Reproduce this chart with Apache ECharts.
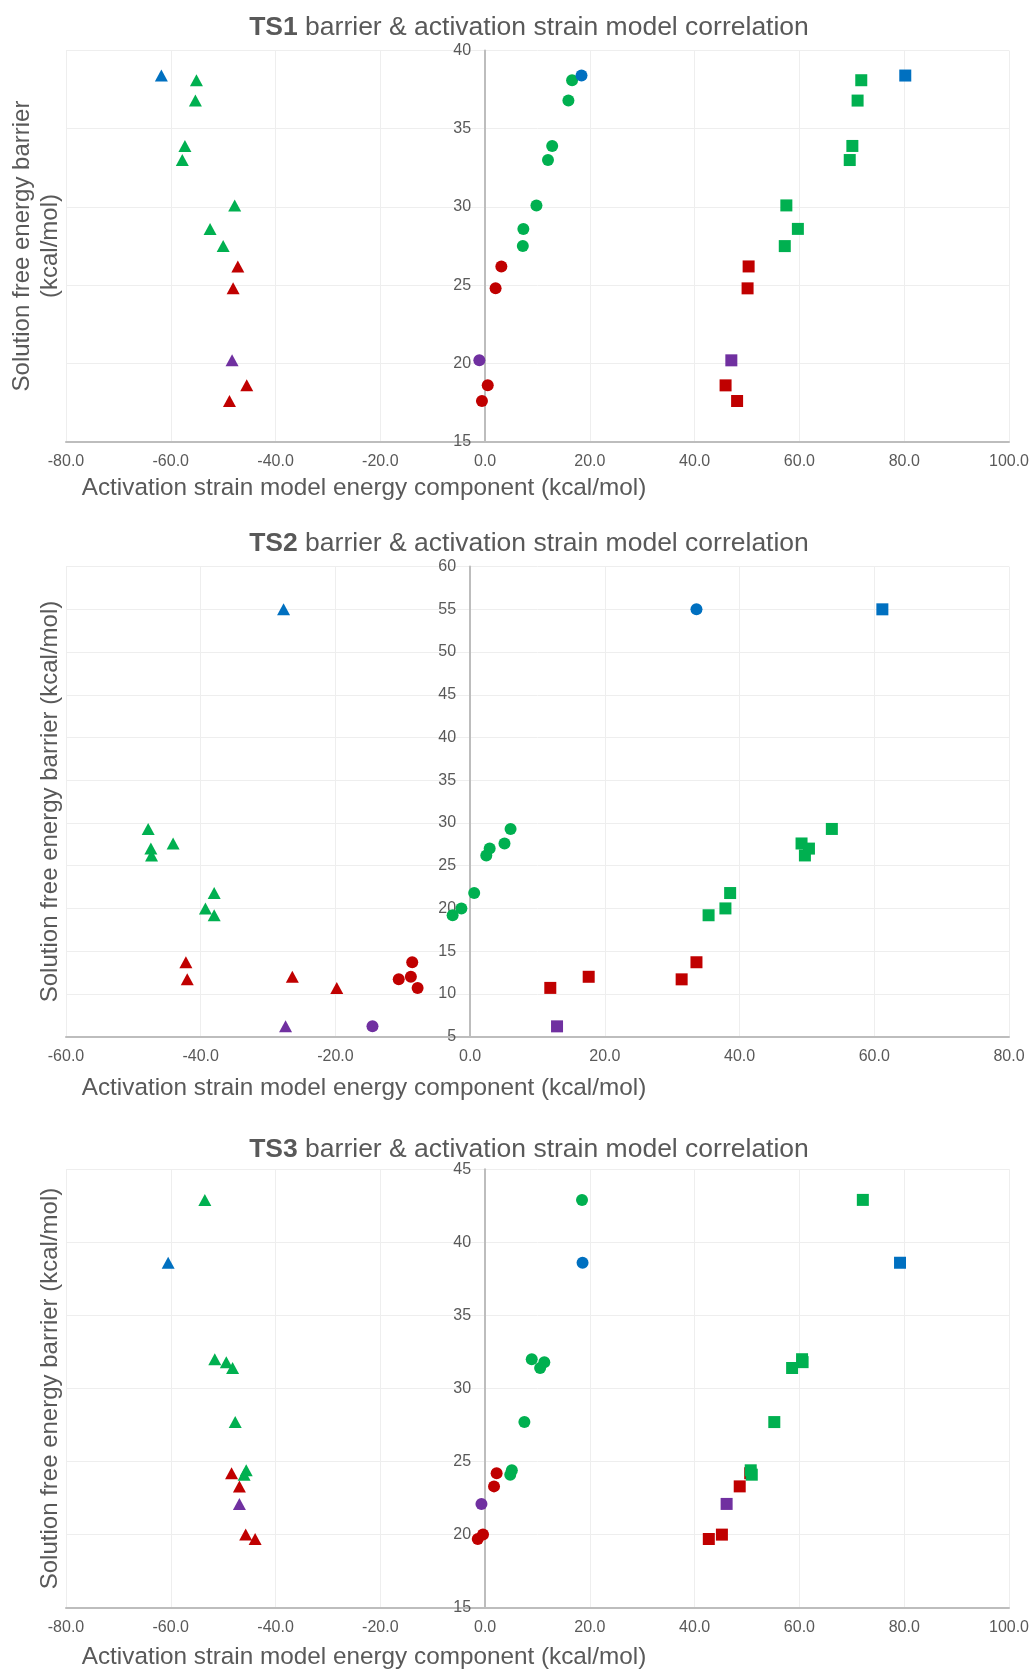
<!DOCTYPE html>
<html>
<head>
<meta charset="utf-8">
<script src="https://cdn.jsdelivr.net/npm/echarts@6/dist/echarts.min.js"></script>
<style>
  html, body { margin: 0; padding: 0; background: #ffffff; }
  #chart { width: 1034px; height: 1671px; }
</style>
</head>
<body>
<div id="chart"></div>
<script>
// ---------- DATA ----------
// Solution free energy barriers (kcal/mol), one entry per compound
const ts1Barrier = [38.4, 38.1, 36.8, 33.9, 33.0, 30.1, 28.6, 27.5, 26.2, 24.8, 20.2, 18.6, 17.6];
const ts1Group   = ['blue','green','green','green','green','green','green','green','red','red','purple','red','red'];
const ts1Interaction = [-61.8, -55.1, -55.3, -57.3, -57.8, -47.8, -52.5, -50.0, -47.2, -48.1, -48.3, -45.5, -48.8]; // triangles
const ts1Total       = [18.4, 16.6, 15.9, 12.8, 12.0, 9.8, 7.3, 7.2, 3.1, 2.0, -1.1, 0.5, -0.6];               // circles
const ts1Strain      = [80.2, 71.8, 71.1, 70.1, 69.6, 57.5, 59.7, 57.2, 50.3, 50.1, 47.0, 45.9, 48.1];          // squares

const ts2Barrier = [55.0, 29.3, 27.6, 27.0, 26.2, 21.8, 20.0, 19.2, 13.7, 11.7, 12.0, 10.7, 6.2];
const ts2Group   = ['blue','green','green','green','green','green','green','green','red','red','red','red','purple'];
const ts2Interaction = [-27.7, -47.8, -44.1, -47.4, -47.3, -38.0, -39.3, -38.0, -42.2, -42.0, -26.4, -19.8, -27.4];
const ts2Total       = [33.6, 6.0, 5.1, 2.9, 2.4, 0.6, -1.3, -2.6, -8.6, -10.6, -8.8, -7.8, -14.5];
const ts2Strain      = [61.2, 53.7, 49.2, 50.3, 49.7, 38.6, 37.9, 35.4, 33.6, 31.4, 17.6, 11.9, 12.9];

const ts3Barrier = [42.9, 38.6, 32.0, 31.8, 31.4, 27.7, 24.4, 24.1, 24.2, 23.3, 22.1, 20.0, 19.7];
const ts3Group   = ['green','blue','green','green','green','green','green','green','red','red','purple','red','red'];
const ts3Interaction = [-53.5, -60.5, -51.6, -49.4, -48.2, -47.7, -45.6, -46.0, -48.4, -46.9, -46.9, -45.7, -43.9];
const ts3Total       = [18.5, 18.6, 8.9, 11.3, 10.5, 7.5, 5.1, 4.8, 2.2, 1.7, -0.7, -0.4, -1.4];
const ts3Strain      = [72.1, 79.2, 60.5, 60.6, 58.6, 55.2, 50.7, 50.9, 50.6, 48.6, 46.1, 45.2, 42.7];

// Axis ranges / ticks
const titles  = ['TS1', 'TS2', 'TS3'];
const xRanges = [[-80, 100], [-60, 80], [-80, 100]];
const yRanges = [[15, 40], [5, 60], [15, 45]];
const xStep = 20;
const yStep = 5;

// ---------- STYLE ----------
const FONT = '"Liberation Sans", Arial, sans-serif';
const TEXT = '#595959';
const GRIDC = '#eeeeee';
const AXISC = '#bdbdbd';
const COLORS = { blue: '#0070c0', green: '#00b050', red: '#c00000', purple: '#7030a0' };
const drawOrder = ['red', 'purple', 'green', 'blue'];
const shapes = [
  { name: 'Interaction', symbol: 'triangle', size: [13, 12] },
  { name: 'Total', symbol: 'circle', size: 12 },
  { name: 'Strain', symbol: 'rect', size: 12 }
];

const charts = [
  { barrier: ts1Barrier, group: ts1Group, vals: [ts1Interaction, ts1Total, ts1Strain] },
  { barrier: ts2Barrier, group: ts2Group, vals: [ts2Interaction, ts2Total, ts2Strain] },
  { barrier: ts3Barrier, group: ts3Group, vals: [ts3Interaction, ts3Total, ts3Strain] }
];

const GRID_LEFT = 66, GRID_WIDTH = 943;
const layout = [
  { top: 50.5, height: 391.2, titleY: 27.5, nameY: 488, yNameX: 36, yNameY: 246 },
  { top: 566.6, height: 470, titleY: 544, nameY: 1088, yNameX: 50, yNameY: 801.5 },
  { top: 1169.2, height: 438.5, titleY: 1150, nameY: 1657.6, yNameX: 50, yNameY: 1388.5 }
];

const grid = [], xAxis = [], yAxis = [], series = [], title = [], graphic = [];

charts.forEach((c, i) => {
  const L = layout[i];
  // the value axis crosses the horizontal axis at x = 0: shift the y axis (line + labels) there
  const zeroShift = GRID_WIDTH * (0 - xRanges[i][0]) / (xRanges[i][1] - xRanges[i][0]);
  grid.push({ left: GRID_LEFT, top: L.top, width: GRID_WIDTH, height: L.height, containLabel: false, outerBoundsMode: 'none' });
  xAxis.push({
    type: 'value', gridIndex: i, min: xRanges[i][0], max: xRanges[i][1], interval: xStep,
    axisLine: { show: true, onZero: false, lineStyle: { color: AXISC, width: 2 } },
    axisTick: { show: false },
    splitLine: { show: true, lineStyle: { color: GRIDC, width: 1 } },
    axisLabel: { formatter: v => v.toFixed(1), color: TEXT, fontSize: 16, fontFamily: FONT, margin: 12 }
  });
  yAxis.push({
    type: 'value', gridIndex: i, min: yRanges[i][0], max: yRanges[i][1], interval: yStep,
    position: 'left', offset: -zeroShift,
    axisLine: { show: true, onZero: false, lineStyle: { color: AXISC, width: 2 } },
    axisTick: { show: false },
    splitLine: { show: true, lineStyle: { color: GRIDC, width: 1 } },
    axisLabel: { color: TEXT, fontSize: 16, fontFamily: FONT, margin: 14 }
  });
  title.push({
    text: '{b|' + titles[i] + '}{n| barrier & activation strain model correlation}',
    left: 529, top: L.titleY, textAlign: 'center', textVerticalAlign: 'middle', padding: 0,
    textStyle: {
      rich: {
        b: { fontWeight: 'bold', fontSize: 26.5, fontFamily: FONT, color: TEXT },
        n: { fontWeight: 'normal', fontSize: 26.5, fontFamily: FONT, color: TEXT }
      }
    }
  });
  graphic.push({
    type: 'text', x: 364, y: L.nameY, silent: true,
    style: { text: 'Activation strain model energy component (kcal/mol)', fontSize: 24.3, fontFamily: FONT,
             fill: TEXT, align: 'center', verticalAlign: 'middle' }
  });
  graphic.push({
    type: 'text', x: L.yNameX, y: L.yNameY, rotation: Math.PI / 2, silent: true,
    style: { text: i === 0 ? 'Solution free energy barrier\n(kcal/mol)' : 'Solution free energy barrier (kcal/mol)',
             fontSize: 24, lineHeight: 28, fontFamily: FONT, fill: TEXT, align: 'center', verticalAlign: 'middle' }
  });

  drawOrder.forEach(col => {
    shapes.forEach((s, k) => {
      const data = [];
      c.barrier.forEach((y, j) => { if (c.group[j] === col) data.push([c.vals[k][j], y]); });
      if (!data.length) return;
      series.push({
        type: 'scatter', name: titles[i] + ' ' + s.name, xAxisIndex: i, yAxisIndex: i,
        symbol: s.symbol, symbolSize: s.size, data: data,
        itemStyle: { color: COLORS[col], opacity: 1 }, silent: true
      });
    });
  });
});

const chart = echarts.init(document.getElementById('chart'), null, { renderer: 'canvas' });
chart.setOption({
  animation: false,
  backgroundColor: '#ffffff',
  title, grid, xAxis, yAxis, series, graphic
});
</script>
</body>
</html>
